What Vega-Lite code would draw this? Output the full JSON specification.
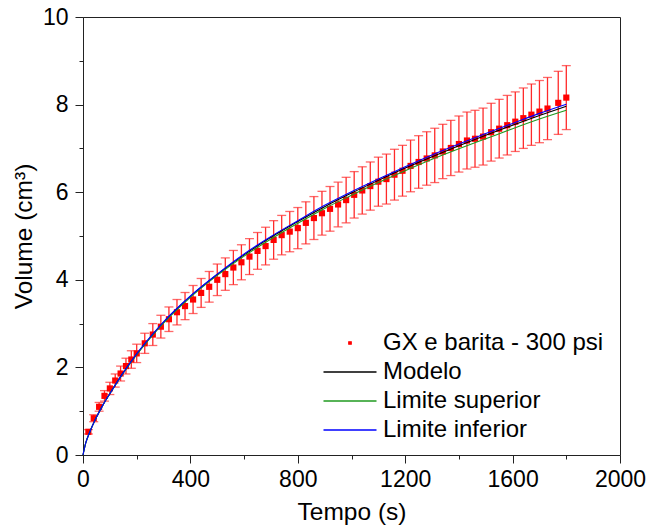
{
  "$schema": "https://vega.github.io/schema/vega-lite/v6.json",
  "width": 537,
  "height": 438,
  "autosize": {"type": "none"},
  "padding": {"left": 83, "top": 17, "right": 28, "bottom": 75},
  "background": "white",
  "config": {
    "font": "Liberation Sans",
    "view": {"stroke": "#222222", "strokeWidth": 1},
    "axis": {"grid": false, "domainColor": "#222222", "tickColor": "#222222", "labelColor": "#000000", "titleColor": "#000000", "titleFontWeight": "normal", "domainWidth": 1, "tickWidth": 1}
  },
  "datasets": {
    "pts": [
      {"t": 20, "v": 0.53, "err": 0.05, "s": "GX e barita - 300 psi"},
      {"t": 40, "v": 0.84, "err": 0.08, "s": "GX e barita - 300 psi"},
      {"t": 60, "v": 1.10, "err": 0.10, "s": "GX e barita - 300 psi"},
      {"t": 80, "v": 1.35, "err": 0.12, "s": "GX e barita - 300 psi"},
      {"t": 100, "v": 1.52, "err": 0.14, "s": "GX e barita - 300 psi"},
      {"t": 120, "v": 1.70, "err": 0.15, "s": "GX e barita - 300 psi"},
      {"t": 140, "v": 1.86, "err": 0.17, "s": "GX e barita - 300 psi"},
      {"t": 160, "v": 2.03, "err": 0.18, "s": "GX e barita - 300 psi"},
      {"t": 180, "v": 2.18, "err": 0.20, "s": "GX e barita - 300 psi"},
      {"t": 200, "v": 2.32, "err": 0.21, "s": "GX e barita - 300 psi"},
      {"t": 230, "v": 2.55, "err": 0.23, "s": "GX e barita - 300 psi"},
      {"t": 260, "v": 2.75, "err": 0.25, "s": "GX e barita - 300 psi"},
      {"t": 290, "v": 2.93, "err": 0.26, "s": "GX e barita - 300 psi"},
      {"t": 320, "v": 3.10, "err": 0.28, "s": "GX e barita - 300 psi"},
      {"t": 350, "v": 3.26, "err": 0.29, "s": "GX e barita - 300 psi"},
      {"t": 380, "v": 3.40, "err": 0.31, "s": "GX e barita - 300 psi"},
      {"t": 410, "v": 3.55, "err": 0.32, "s": "GX e barita - 300 psi"},
      {"t": 440, "v": 3.70, "err": 0.33, "s": "GX e barita - 300 psi"},
      {"t": 470, "v": 3.84, "err": 0.35, "s": "GX e barita - 300 psi"},
      {"t": 500, "v": 4.00, "err": 0.36, "s": "GX e barita - 300 psi"},
      {"t": 530, "v": 4.13, "err": 0.37, "s": "GX e barita - 300 psi"},
      {"t": 560, "v": 4.28, "err": 0.39, "s": "GX e barita - 300 psi"},
      {"t": 590, "v": 4.40, "err": 0.40, "s": "GX e barita - 300 psi"},
      {"t": 620, "v": 4.53, "err": 0.41, "s": "GX e barita - 300 psi"},
      {"t": 650, "v": 4.66, "err": 0.42, "s": "GX e barita - 300 psi"},
      {"t": 680, "v": 4.77, "err": 0.43, "s": "GX e barita - 300 psi"},
      {"t": 710, "v": 4.91, "err": 0.44, "s": "GX e barita - 300 psi"},
      {"t": 740, "v": 5.02, "err": 0.45, "s": "GX e barita - 300 psi"},
      {"t": 770, "v": 5.10, "err": 0.46, "s": "GX e barita - 300 psi"},
      {"t": 800, "v": 5.18, "err": 0.47, "s": "GX e barita - 300 psi"},
      {"t": 830, "v": 5.30, "err": 0.48, "s": "GX e barita - 300 psi"},
      {"t": 860, "v": 5.41, "err": 0.49, "s": "GX e barita - 300 psi"},
      {"t": 890, "v": 5.52, "err": 0.50, "s": "GX e barita - 300 psi"},
      {"t": 920, "v": 5.62, "err": 0.51, "s": "GX e barita - 300 psi"},
      {"t": 950, "v": 5.72, "err": 0.51, "s": "GX e barita - 300 psi"},
      {"t": 980, "v": 5.82, "err": 0.52, "s": "GX e barita - 300 psi"},
      {"t": 1010, "v": 5.94, "err": 0.53, "s": "GX e barita - 300 psi"},
      {"t": 1040, "v": 6.04, "err": 0.54, "s": "GX e barita - 300 psi"},
      {"t": 1070, "v": 6.14, "err": 0.55, "s": "GX e barita - 300 psi"},
      {"t": 1100, "v": 6.24, "err": 0.56, "s": "GX e barita - 300 psi"},
      {"t": 1130, "v": 6.30, "err": 0.57, "s": "GX e barita - 300 psi"},
      {"t": 1160, "v": 6.40, "err": 0.58, "s": "GX e barita - 300 psi"},
      {"t": 1190, "v": 6.49, "err": 0.58, "s": "GX e barita - 300 psi"},
      {"t": 1220, "v": 6.60, "err": 0.59, "s": "GX e barita - 300 psi"},
      {"t": 1250, "v": 6.69, "err": 0.60, "s": "GX e barita - 300 psi"},
      {"t": 1280, "v": 6.77, "err": 0.61, "s": "GX e barita - 300 psi"},
      {"t": 1310, "v": 6.84, "err": 0.62, "s": "GX e barita - 300 psi"},
      {"t": 1340, "v": 6.93, "err": 0.62, "s": "GX e barita - 300 psi"},
      {"t": 1370, "v": 7.01, "err": 0.63, "s": "GX e barita - 300 psi"},
      {"t": 1400, "v": 7.10, "err": 0.64, "s": "GX e barita - 300 psi"},
      {"t": 1430, "v": 7.18, "err": 0.65, "s": "GX e barita - 300 psi"},
      {"t": 1460, "v": 7.22, "err": 0.65, "s": "GX e barita - 300 psi"},
      {"t": 1490, "v": 7.27, "err": 0.65, "s": "GX e barita - 300 psi"},
      {"t": 1520, "v": 7.37, "err": 0.66, "s": "GX e barita - 300 psi"},
      {"t": 1550, "v": 7.45, "err": 0.67, "s": "GX e barita - 300 psi"},
      {"t": 1580, "v": 7.53, "err": 0.68, "s": "GX e barita - 300 psi"},
      {"t": 1610, "v": 7.61, "err": 0.68, "s": "GX e barita - 300 psi"},
      {"t": 1640, "v": 7.69, "err": 0.69, "s": "GX e barita - 300 psi"},
      {"t": 1670, "v": 7.77, "err": 0.70, "s": "GX e barita - 300 psi"},
      {"t": 1700, "v": 7.84, "err": 0.71, "s": "GX e barita - 300 psi"},
      {"t": 1730, "v": 7.91, "err": 0.71, "s": "GX e barita - 300 psi"},
      {"t": 1770, "v": 8.04, "err": 0.72, "s": "GX e barita - 300 psi"},
      {"t": 1800, "v": 8.16, "err": 0.73, "s": "GX e barita - 300 psi"}
    ],
    "lines": [
      {"t": 0, "v": 0, "s": "Modelo"}, {"t": 10, "v": 0.27, "s": "Modelo"}, {"t": 25, "v": 0.52, "s": "Modelo"}, {"t": 50, "v": 0.86, "s": "Modelo"}, {"t": 75, "v": 1.15, "s": "Modelo"}, {"t": 100, "v": 1.40, "s": "Modelo"}, {"t": 150, "v": 1.88, "s": "Modelo"}, {"t": 200, "v": 2.30, "s": "Modelo"}, {"t": 250, "v": 2.68, "s": "Modelo"}, {"t": 300, "v": 3.03, "s": "Modelo"}, {"t": 400, "v": 3.62, "s": "Modelo"}, {"t": 500, "v": 4.12, "s": "Modelo"}, {"t": 600, "v": 4.57, "s": "Modelo"}, {"t": 700, "v": 4.97, "s": "Modelo"}, {"t": 800, "v": 5.33, "s": "Modelo"}, {"t": 900, "v": 5.67, "s": "Modelo"}, {"t": 1000, "v": 5.98, "s": "Modelo"}, {"t": 1100, "v": 6.27, "s": "Modelo"}, {"t": 1200, "v": 6.55, "s": "Modelo"}, {"t": 1300, "v": 6.81, "s": "Modelo"}, {"t": 1400, "v": 7.06, "s": "Modelo"}, {"t": 1500, "v": 7.30, "s": "Modelo"}, {"t": 1600, "v": 7.53, "s": "Modelo"}, {"t": 1700, "v": 7.75, "s": "Modelo"}, {"t": 1800, "v": 7.96, "s": "Modelo"},
      {"t": 0, "v": 0, "s": "Limite superior"}, {"t": 10, "v": 0.27, "s": "Limite superior"}, {"t": 25, "v": 0.52, "s": "Limite superior"}, {"t": 50, "v": 0.86, "s": "Limite superior"}, {"t": 75, "v": 1.15, "s": "Limite superior"}, {"t": 100, "v": 1.40, "s": "Limite superior"}, {"t": 150, "v": 1.87, "s": "Limite superior"}, {"t": 200, "v": 2.29, "s": "Limite superior"}, {"t": 250, "v": 2.67, "s": "Limite superior"}, {"t": 300, "v": 3.01, "s": "Limite superior"}, {"t": 400, "v": 3.60, "s": "Limite superior"}, {"t": 500, "v": 4.10, "s": "Limite superior"}, {"t": 600, "v": 4.54, "s": "Limite superior"}, {"t": 700, "v": 4.93, "s": "Limite superior"}, {"t": 800, "v": 5.29, "s": "Limite superior"}, {"t": 900, "v": 5.63, "s": "Limite superior"}, {"t": 1000, "v": 5.93, "s": "Limite superior"}, {"t": 1100, "v": 6.22, "s": "Limite superior"}, {"t": 1200, "v": 6.49, "s": "Limite superior"}, {"t": 1300, "v": 6.75, "s": "Limite superior"}, {"t": 1400, "v": 6.99, "s": "Limite superior"}, {"t": 1500, "v": 7.22, "s": "Limite superior"}, {"t": 1600, "v": 7.45, "s": "Limite superior"}, {"t": 1700, "v": 7.67, "s": "Limite superior"}, {"t": 1800, "v": 7.87, "s": "Limite superior"},
      {"t": 0, "v": 0, "s": "Limite inferior"}, {"t": 10, "v": 0.27, "s": "Limite inferior"}, {"t": 25, "v": 0.52, "s": "Limite inferior"}, {"t": 50, "v": 0.86, "s": "Limite inferior"}, {"t": 75, "v": 1.15, "s": "Limite inferior"}, {"t": 100, "v": 1.40, "s": "Limite inferior"}, {"t": 150, "v": 1.88, "s": "Limite inferior"}, {"t": 200, "v": 2.31, "s": "Limite inferior"}, {"t": 250, "v": 2.69, "s": "Limite inferior"}, {"t": 300, "v": 3.04, "s": "Limite inferior"}, {"t": 400, "v": 3.63, "s": "Limite inferior"}, {"t": 500, "v": 4.13, "s": "Limite inferior"}, {"t": 600, "v": 4.59, "s": "Limite inferior"}, {"t": 700, "v": 4.99, "s": "Limite inferior"}, {"t": 800, "v": 5.35, "s": "Limite inferior"}, {"t": 900, "v": 5.70, "s": "Limite inferior"}, {"t": 1000, "v": 6.01, "s": "Limite inferior"}, {"t": 1100, "v": 6.30, "s": "Limite inferior"}, {"t": 1200, "v": 6.58, "s": "Limite inferior"}, {"t": 1300, "v": 6.85, "s": "Limite inferior"}, {"t": 1400, "v": 7.10, "s": "Limite inferior"}, {"t": 1500, "v": 7.34, "s": "Limite inferior"}, {"t": 1600, "v": 7.57, "s": "Limite inferior"}, {"t": 1700, "v": 7.80, "s": "Limite inferior"}, {"t": 1800, "v": 8.01, "s": "Limite inferior"}
    ]
  },
  "resolve": {"axis": {"x": "independent", "y": "independent"}},
  "layer": [
    {
      "data": {"name": "pts"},
      "mark": {"type": "errorbar", "color": "#ff2a2a", "thickness": 1.3, "ticks": {"size": 9, "thickness": 1.3, "color": "#ff2a2a"}},
      "encoding": {
        "x": {"field": "t", "type": "quantitative", "scale": {"domain": [0, 2000], "nice": false}, "axis": null},
        "y": {"field": "v", "type": "quantitative", "scale": {"domain": [0, 10], "nice": false}, "axis": null},
        "yError": {"field": "err"}
      }
    },
    {
      "data": {"name": "pts"},
      "mark": {"type": "square", "size": 38, "opacity": 1},
      "encoding": {
        "x": {"field": "t", "type": "quantitative", "scale": {"domain": [0, 2000], "nice": false},
              "axis": {"orient": "bottom", "values": [200, 600, 1000, 1400, 1800], "tickSize": 4, "labels": false, "domain": false, "title": null}},
        "y": {"field": "v", "type": "quantitative", "scale": {"domain": [0, 10], "nice": false},
              "axis": {"orient": "left", "values": [1, 3, 5, 7, 9], "tickSize": 4, "labels": false, "domain": false, "title": null}},
        "color": {"field": "s", "type": "nominal",
          "scale": {"domain": ["GX e barita - 300 psi", "Modelo", "Limite superior", "Limite inferior"], "range": ["#ff0000", "#000000", "#1f9a1f", "#0000ff"]},
          "legend": {"orient": "none", "legendX": 255, "legendY": 314, "title": null, "padding": 0,
            "symbolType": "M-5.3,0H5.3", "symbolSize": 100, "symbolStrokeWidth": 1.3,
            "labelFontSize": 24, "labelColor": "#000000", "labelOffset": 21, "labelLimit": 0, "rowPadding": 5,
            "encode": {"symbols": {"update": {
              "shape": {"signal": "datum.value === 'GX e barita - 300 psi' ? 'M-0.24,-0.24H0.24V0.24H-0.24Z' : 'M-5.3,0H5.3'"},
              "fill": {"signal": "datum.value === 'GX e barita - 300 psi' ? '#ff0000' : 'transparent'"},
              "stroke": {"signal": "datum.value === 'GX e barita - 300 psi' ? 'transparent' : (datum.value === 'Modelo' ? '#000000' : (datum.value === 'Limite superior' ? '#1f9a1f' : '#0000ff'))"},
              "opacity": {"value": 1}
            }}}}
        }
      }
    },
    {
      "data": {"name": "lines"},
      "mark": {"type": "line", "strokeWidth": 1.1, "interpolate": "monotone"},
      "encoding": {
        "x": {"field": "t", "type": "quantitative", "scale": {"domain": [0, 2000], "nice": false},
              "axis": {"orient": "bottom", "values": [0, 400, 800, 1200, 1600, 2000], "format": "d", "tickSize": 8, "labelFontSize": 23, "labelPadding": 5, "labelFlush": false, "labelOverlap": false, "title": "Tempo (s)", "titleFontSize": 24.5, "titlePadding": 9}},
        "y": {"field": "v", "type": "quantitative", "scale": {"domain": [0, 10], "nice": false},
              "axis": {"orient": "left", "values": [0, 2, 4, 6, 8, 10], "format": "d", "tickSize": 8, "labelFontSize": 23, "labelPadding": 7, "labelFlush": false, "labelOverlap": false, "title": "Volume (cm³)", "titleFontSize": 24.5, "titlePadding": 6}},
        "color": {"field": "s", "type": "nominal",
          "scale": {"domain": ["GX e barita - 300 psi", "Modelo", "Limite superior", "Limite inferior"], "range": ["#ff0000", "#000000", "#1f9a1f", "#0000ff"]},
          "legend": {"orient": "none", "legendX": 255, "legendY": 314, "title": null, "padding": 0,
            "symbolType": "M-5.3,0H5.3", "symbolSize": 100, "symbolStrokeWidth": 1.3,
            "labelFontSize": 24, "labelColor": "#000000", "labelOffset": 21, "labelLimit": 0, "rowPadding": 5,
            "encode": {"symbols": {"update": {
              "shape": {"signal": "datum.value === 'GX e barita - 300 psi' ? 'M-0.24,-0.24H0.24V0.24H-0.24Z' : 'M-5.3,0H5.3'"},
              "fill": {"signal": "datum.value === 'GX e barita - 300 psi' ? '#ff0000' : 'transparent'"},
              "stroke": {"signal": "datum.value === 'GX e barita - 300 psi' ? 'transparent' : (datum.value === 'Modelo' ? '#000000' : (datum.value === 'Limite superior' ? '#1f9a1f' : '#0000ff'))"},
              "opacity": {"value": 1}
            }}}}
        }
      }
    }
  ]
}
